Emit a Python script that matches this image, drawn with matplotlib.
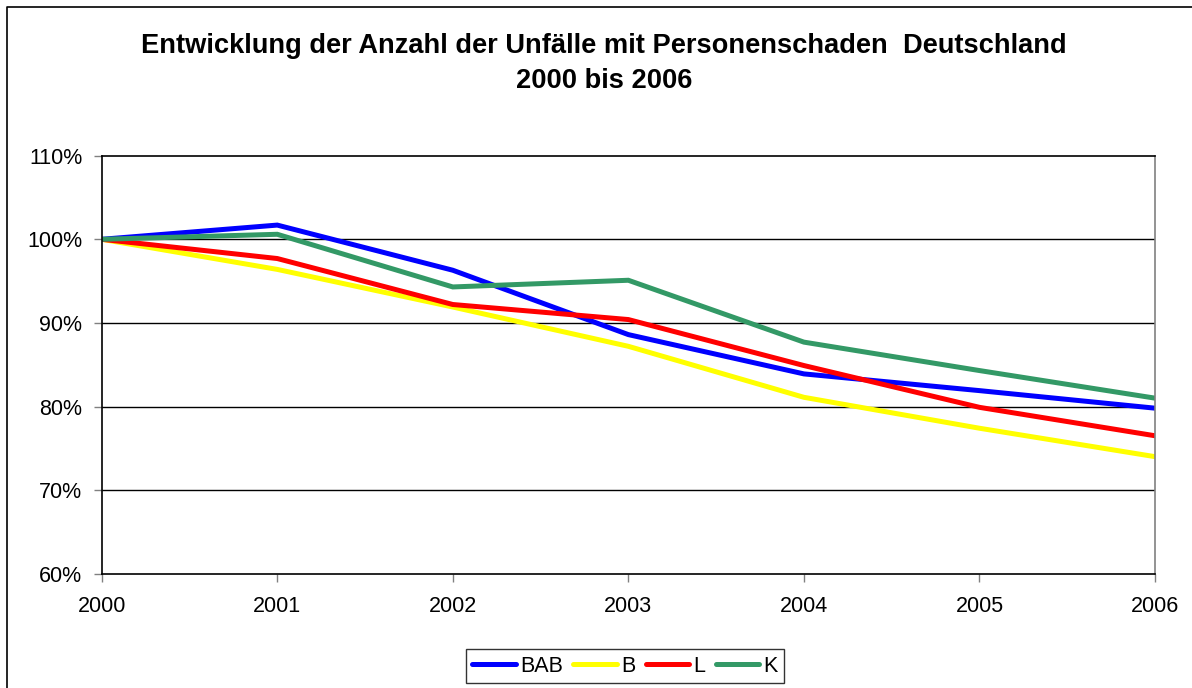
import matplotlib
matplotlib.use("Agg")
import matplotlib.pyplot as plt
from matplotlib.lines import Line2D
from matplotlib.ticker import FuncFormatter, FixedLocator

years = [2000, 2001, 2002, 2003, 2004, 2005, 2006]
series_names = ["BAB", "B", "L", "K"]
bab = [100.0, 101.7, 96.3, 88.6, 83.9, 81.9, 79.8]
b = [100.0, 96.4, 91.9, 87.2, 81.1, 77.4, 74.0]
l = [100.0, 97.7, 92.2, 90.4, 84.9, 79.9, 76.5]
k = [100.0, 100.6, 94.3, 95.1, 87.7, 84.3, 81.0]
colors = ["#0000FF", "#FFFF00", "#FF0000", "#339966"]
yticks = [60, 70, 80, 90, 100, 110]

plt.rcParams['font.family'] = ['Liberation Sans', 'DejaVu Sans']

W, H = 1192, 688
fig = plt.figure(figsize=(W / 100, H / 100), dpi=100)
fig.patch.set_facecolor("white")

ax = fig.add_axes([101.7 / W, 1 - 573.7 / H, (1155 - 101.7) / W, (573.7 - 155.7) / H])

for vals, c, name in zip([bab, b, l, k], colors, series_names):
    ax.plot(years, vals, color=c, lw=3.6, label=name, solid_capstyle="round", solid_joinstyle="miter")

ax.set_xlim(2000, 2006)
ax.set_ylim(60, 110)
ax.yaxis.set_major_locator(FixedLocator(yticks))
ax.yaxis.set_major_formatter(FuncFormatter(lambda v, p: f"{int(round(v))}%"))
ax.set_xticks(years)
ax.set_xticklabels([str(y) for y in years])

for yv in yticks[1:-1]:
    ax.axhline(yv, color="black", lw=1.0, zorder=0.5)

ax.spines["left"].set_color("black")
ax.spines["bottom"].set_color("black")
ax.spines["top"].set_color("black")
ax.spines["right"].set_color("#808080")
for s in ax.spines.values():
    s.set_linewidth(1.2)

ax.tick_params(axis="y", direction="out", length=6, width=1, color="#808080", labelsize=15.5, pad=8)
ax.tick_params(axis="x", direction="out", length=6, width=1, color="#808080", labelsize=15.5, pad=10)

fig.text(604 / W, 1 - 53 / H, "Entwicklung der Anzahl der Unfälle mit Personenschaden  Deutschland",
         ha="center", va="baseline", fontsize=19.6, fontweight="bold")
fig.text(604 / W, 1 - 88 / H, "2000 bis 2006",
         ha="center", va="baseline", fontsize=19.6, fontweight="bold")

leg = fig.legend(loc="center", bbox_to_anchor=(625 / W, 1 - 666 / H), ncol=4, frameon=True,
                 fontsize=15.5, handlelength=2.0, handletextpad=0.2, columnspacing=0.5,
                 borderpad=0.3, borderaxespad=0.0, fancybox=False)
leg.get_frame().set_edgecolor("black")
leg.get_frame().set_linewidth(1.0)
for h in leg.get_lines():
    h.set_solid_capstyle("round")

fig.add_artist(Line2D([7.5 / W, 7.5 / W, 1.0], [0.0, 1 - 6.5 / H, 1 - 6.5 / H],
                      transform=fig.transFigure, color="black", lw=1.2))

fig.savefig("out.png", dpi=100, facecolor="white")
